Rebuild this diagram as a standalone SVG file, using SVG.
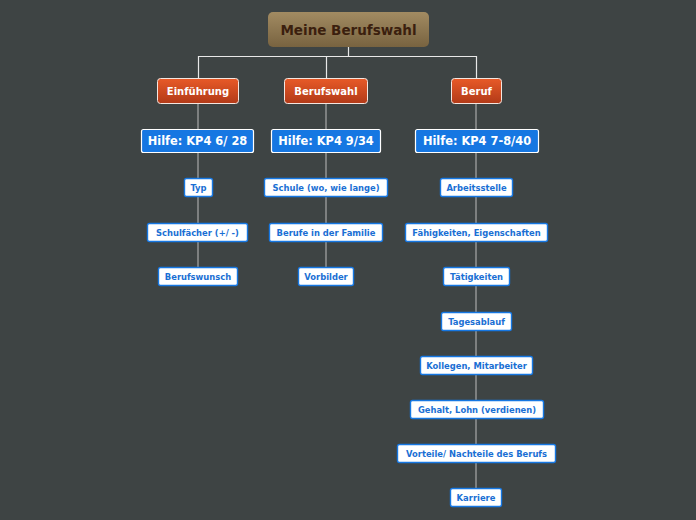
<svg xmlns="http://www.w3.org/2000/svg" width="696" height="520" viewBox="0 0 696 520">
<defs>
<linearGradient id="gRoot" x1="0" y1="0" x2="0" y2="1"><stop offset="0" stop-color="#a28b62"/><stop offset="1" stop-color="#786340"/></linearGradient>
<linearGradient id="gMain" x1="0" y1="0" x2="0" y2="1"><stop offset="0" stop-color="#e85a28"/><stop offset="1" stop-color="#b23a18"/></linearGradient>
<style>
text{font-family:"DejaVu Sans",Verdana,sans-serif;font-weight:bold;text-anchor:middle;dominant-baseline:central}
.root rect{fill:url(#gRoot);stroke:none}
.root text{fill:#3b1f0e;font-size:13.5px}
.main rect{fill:url(#gMain);stroke:#f4e6e0;stroke-width:1}
.main text{fill:#ffffff;font-size:10px}
.help rect{fill:#1677e2;stroke:#ffffff;stroke-width:1.2}
.help text{fill:#ffffff;font-size:11.4px}
.sub rect{fill:#ffffff;stroke:#1677e2;stroke-width:1.4}
.sub text{fill:#1a6fd4;font-size:8.4px}
.con path{fill:none;stroke:#a8a8a8;stroke-width:1.2}
.con path.w{stroke:#e8e8e8}
</style>
</defs>
<rect width="696" height="520" fill="#3e4444"/>
<g class="con">
<path class="w" d="M198.5 78V56.5H476.5V78M348.5 46V56.5M326.5 56.5V78"/>
<path d="M198 103V129M198 152V178M198 197V223M198 241V267"/>
<path d="M326 103V129M326 152V178M326 197V223M326 241V267"/>
<path d="M476 103V129M476 152V178M476 197V223M476 241V267M476 285V312M476 330V356M476 374V400M476 418V444M476 462V488"/>
</g>
<g id="root" class="root"><rect x="268" y="12" width="161" height="35" rx="5"/><text x="348.5" y="30">Meine Berufswahl</text></g>
<g id="n-einf" class="main"><rect x="157.5" y="78.5" width="81" height="25" rx="3"/><text x="198" y="91">Einführung</text></g>
<g id="n-bwahl" class="main"><rect x="284.5" y="78.5" width="83" height="25" rx="3"/><text x="326" y="91">Berufswahl</text></g>
<g id="n-beruf" class="main"><rect x="451.5" y="78.5" width="50" height="25" rx="3"/><text x="476.5" y="91">Beruf</text></g>
<g id="h1" class="help"><rect x="141.5" y="129.5" width="112" height="23" rx="2"/><text x="197.5" y="141">Hilfe: KP4 6/ 28</text></g>
<g id="h2" class="help"><rect x="271.5" y="129.5" width="109" height="23" rx="2"/><text x="326" y="141">Hilfe: KP4 9/34</text></g>
<g id="h3" class="help"><rect x="415.5" y="129.5" width="123" height="23" rx="2"/><text x="477" y="141">Hilfe: KP4 7-8/40</text></g>
<g id="s-typ" class="sub"><rect x="184.5" y="178.5" width="28" height="18" rx="2"/><text x="198.5" y="187.5">Typ</text></g>
<g id="s-schulf" class="sub"><rect x="147.5" y="223.5" width="100" height="18" rx="2"/><text x="197.5" y="232.5">Schulfächer (+/ -)</text></g>
<g id="s-wunsch" class="sub"><rect x="158.5" y="267.5" width="79" height="18" rx="2"/><text x="198" y="276.5">Berufswunsch</text></g>
<g id="s-schule" class="sub"><rect x="264.5" y="178.5" width="123" height="18" rx="2"/><text x="326" y="187.5">Schule (wo, wie lange)</text></g>
<g id="s-familie" class="sub"><rect x="269.5" y="223.5" width="113" height="18" rx="2"/><text x="326" y="232.5">Berufe in der Familie</text></g>
<g id="s-vorbilder" class="sub"><rect x="298.5" y="267.5" width="55" height="18" rx="2"/><text x="326" y="276.5">Vorbilder</text></g>
<g id="s-arbeit" class="sub"><rect x="440.5" y="178.5" width="72" height="18" rx="2"/><text x="476.5" y="187.5">Arbeitsstelle</text></g>
<g id="s-faehig" class="sub"><rect x="405.5" y="223.5" width="142" height="18" rx="2"/><text x="476.5" y="232.5">Fähigkeiten, Eigenschaften</text></g>
<g id="s-taetig" class="sub"><rect x="443.5" y="267.5" width="66" height="18" rx="2"/><text x="476.5" y="276.5">Tätigkeiten</text></g>
<g id="s-tages" class="sub"><rect x="441.5" y="312.5" width="70" height="18" rx="2"/><text x="476.5" y="321.5">Tagesablauf</text></g>
<g id="s-koll" class="sub"><rect x="420.5" y="356.5" width="112" height="18" rx="2"/><text x="476.5" y="365.5">Kollegen, Mitarbeiter</text></g>
<g id="s-gehalt" class="sub"><rect x="410.5" y="400.5" width="133" height="18" rx="2"/><text x="477" y="409.5">Gehalt, Lohn (verdienen)</text></g>
<g id="s-vorteile" class="sub"><rect x="397.5" y="444.5" width="158" height="18" rx="2"/><text x="476.5" y="453.5">Vorteile/ Nachteile des Berufs</text></g>
<g id="s-karriere" class="sub"><rect x="450.5" y="488.5" width="51" height="18" rx="2"/><text x="476" y="497.5">Karriere</text></g>
</svg>
